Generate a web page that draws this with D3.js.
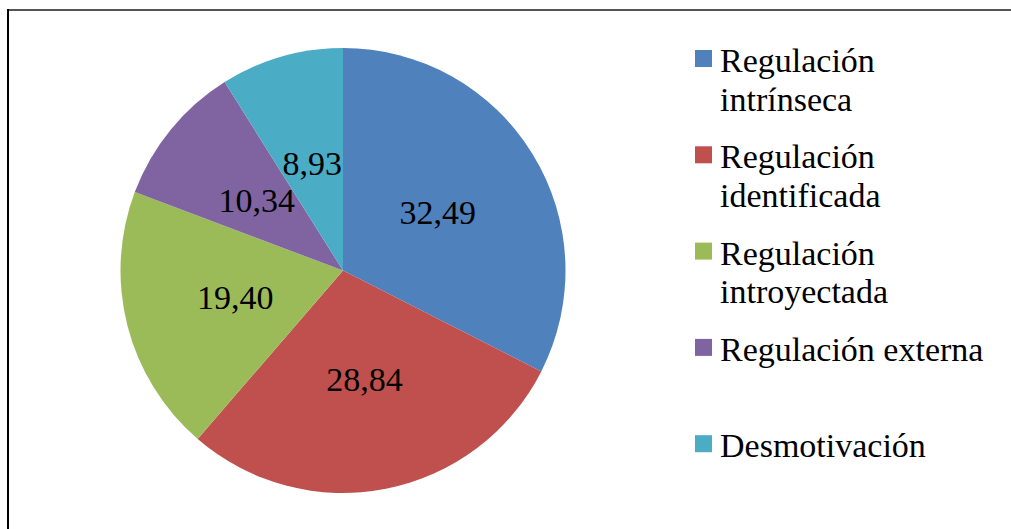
<!DOCTYPE html>
<html>
<head>
<meta charset="utf-8">
<script src="https://cdn.jsdelivr.net/npm/d3@7"></script>
<style>
  body { margin: 0; background: #fff; }
</style>
</head>
<body>
<svg></svg>
<script>
var categories = ["Regulación intrínseca", "Regulación identificada", "Regulación introyectada", "Regulación externa", "Desmotivación"];
var legendLines = [["Regulación", "intrínseca"], ["Regulación", "identificada"], ["Regulación", "introyectada"], ["Regulación externa"], ["Desmotivación"]];
var values = [32.49, 28.84, 19.40, 10.34, 8.93];
var colors = ["#4F81BD", "#C0504D", "#9BBB59", "#8064A2", "#4BACC6"];

var width = 1011;
var height = 529;
var font = "'Times New Roman', Times, 'Liberation Serif', Tinos, 'Noto Serif', 'DejaVu Serif', FreeSerif, serif";

var svg = d3.select("svg")
    .attr("width", width)
    .attr("height", height);

// frame
svg.append("line")
    .attr("x1", 8).attr("x2", width)
    .attr("y1", 10).attr("y2", 10)
    .attr("stroke", "#555").attr("stroke-width", 2);
svg.append("line")
    .attr("x1", 8).attr("x2", 8)
    .attr("y1", 9).attr("y2", height)
    .attr("stroke", "#000").attr("stroke-width", 2);

var cx = 343, cy = 270.5, radius = 222.5;
var fs = 34;

var pie = d3.pie().sort(null).value(d => d);
var arc = d3.arc().innerRadius(0).outerRadius(radius);
var labelArc = d3.arc().innerRadius(radius * 0.5).outerRadius(radius * 0.5);

var g = svg.append("g").attr("transform", "translate(" + cx + "," + cy + ")");

var slices = g.selectAll(".slice")
    .data(pie(values))
    .enter().append("g")
    .attr("class", "slice");

slices.append("path")
    .attr("d", arc)
    .attr("fill", (d, i) => colors[i]);

slices.append("text")
    .attr("transform", d => {
      var c = labelArc.centroid(d);
      return "translate(" + c[0] + "," + (c[1] + fs * 0.338) + ")";
    })
    .attr("text-anchor", "middle")
    .attr("font-family", font)
    .attr("font-size", fs)
    .attr("fill", "#000")
    .text(d => d.data.toFixed(2).replace(".", ","));

// legend
var legend = svg.append("g")
    .selectAll(".legend")
    .data(categories)
    .enter().append("g")
    .attr("class", "legend")
    .attr("transform", (d, i) => "translate(0," + (72 + i * 96.3) + ")");

legend.append("rect")
    .attr("x", 695)
    .attr("y", -22)
    .attr("width", 17)
    .attr("height", 17)
    .attr("fill", (d, i) => colors[i]);

legend.append("text")
    .attr("x", 720)
    .attr("y", 0)
    .attr("font-family", font)
    .attr("font-size", fs)
    .attr("fill", "#000")
    .selectAll("tspan")
    .data((d, i) => legendLines[i])
    .enter().append("tspan")
    .attr("x", 720)
    .attr("dy", (d, j) => j === 0 ? 0 : 38.5)
    .text(d => d);
</script>
</body>
</html>
